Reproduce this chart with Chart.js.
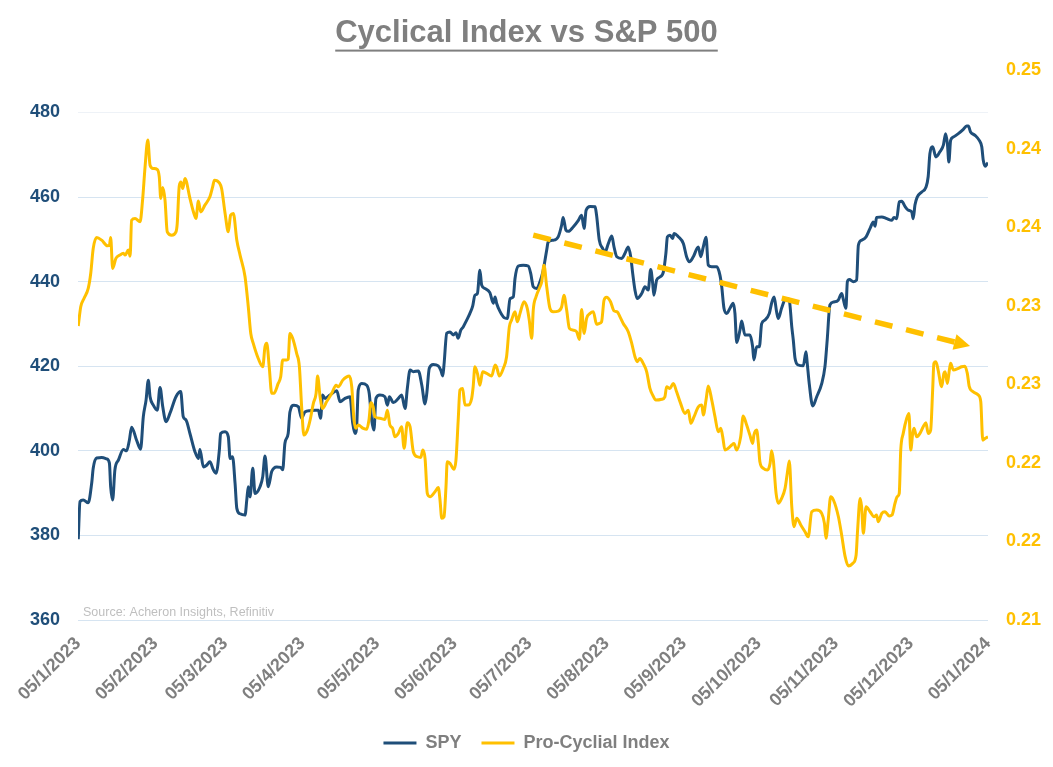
<!DOCTYPE html>
<html><head><meta charset="utf-8">
<script src="https://cdn.jsdelivr.net/npm/chart.js@4.4.1/dist/chart.umd.min.js"></script>
<style>html,body{margin:0;padding:0;background:#fff;} #wrap{width:1053px;height:767px;position:relative;}</style>
</head><body><div id="wrap"><canvas id="c"></canvas></div>
<script>
const titleText = 'Cyclical Index vs S&P 500';
const sourceText = 'Source: Acheron Insights, Refinitiv';
const seriesNames = ['SPY', 'Pro-Cyclial Index'];
const tickDays = [0,31,59,90,120,151,181,212,243,273,304,334,365];
const tickLabels = ['05/1/2023','05/2/2023','05/3/2023','05/4/2023','05/5/2023','05/6/2023','05/7/2023','05/8/2023','05/9/2023','05/10/2023','05/11/2023','05/12/2023','05/1/2024'];
const leftTicks = [360,380,400,420,440,460,480];
const rightTicks = [0.21,0.215,0.22,0.225,0.23,0.235,0.24,0.245];

const spyDay = [0.1,0.8,2.1,4.1,5.5,6.1,7.5,9.5,11.5,12.6,
13.1,13.9,14.8,16.2,18.2,19.5,20.6,21.5,23.5,25.1,
26.2,27.3,28.2,28.9,30.2,31.8,32.9,34.0,35.3,36.9,
39.3,41.2,42.2,43.3,44.9,46.9,48.3,48.9,50.3,51.6,
52.9,54.3,55.4,56.7,57.2,59.0,60.3,61.0,62.0,63.0,
63.7,65.0,67.0,67.7,68.3,69.0,70.1,71.0,73.0,74.1,
75.0,76.3,77.7,79.7,81.3,82.1,83.0,84.3,85.0,86.6,
88.4,89.7,91.0,93.1,95.1,96.4,97.3,98.1,99.1,101.1,
103.8,105.1,107.1,109.1,110.2,111.1,111.8,112.4,113.8,115.8,
116.8,117.8,118.7,119.5,121.1,123.1,124.1,124.9,126.5,128.5,
129.8,131.2,132.1,133.2,134.5,136.5,137.9,139.2,139.9,140.9,
142.5,144.5,145.5,146.3,146.8,147.9,149.2,150.5,151.6,152.5,
153.5,154.5,155.9,157.2,158.3,159.2,160.2,161.2,161.9,163.2,
165.2,166.6,167.3,167.9,169.3,170.9,172.2,173.3,174.6,175.3,
176.6,178.6,180.6,181.6,182.6,184.0,185.3,186.6,188.0,188.6,
190.6,192.6,194.0,194.6,195.7,196.7,198.7,200.7,202.0,203.0,
203.8,205.4,207.4,208.0,209.1,210.4,211.4,212.7,214.1,215.0,
216.1,218.1,219.4,220.7,221.7,222.5,223.4,224.3,226.1,227.4,
228.7,229.7,230.5,231.0,232.1,233.4,234.8,235.8,236.4,237.4,
238.5,239.1,240.8,242.8,244.1,245.2,246.8,248.8,249.8,250.8,
251.9,252.8,254.2,256.2,257.5,258.2,259.1,260.2,261.5,262.8,
263.5,264.2,265.5,266.2,267.5,269.5,270.6,271.1,272.2,273.3,
274.2,275.5,277.3,278.2,279.2,280.2,280.9,282.2,283.6,284.5,
285.3,286.3,286.9,287.6,288.9,290.9,292.0,292.5,293.3,294.7,
296.3,298.3,299.6,300.5,301.6,303.2,304.9,306.3,306.9,308.0,
308.6,309.4,311.0,312.3,313.0,314.3,316.1,317.7,319.0,319.7,
320.3,322.4,324.4,326.4,327.3,328.4,329.4,330.4,331.7,333.0,
334.4,335.0,335.7,336.6,338.4,340.1,341.0,341.7,342.8,344.1,
345.7,347.1,348.0,348.7,349.3,350.0,351.1,353.1,355.1,356.4,
357.1,358.0,359.8,361.5,362.5,363.1,363.9,364.7,365];
const spyValue = [379.1,388.0,388.4,387.7,392.4,395.9,398.3,398.4,398.1,397.1,
391.5,388.4,395.5,397.8,400.3,400.0,402.5,405.6,402.5,400.4,
408.1,412.0,416.7,412.8,410.8,409.6,415.0,410.4,406.9,408.9,
412.8,414.0,408.1,407.3,404.1,399.8,398.2,400.3,396.2,396.6,
397.4,395.5,394.7,400.2,404.1,404.5,403.3,398.2,398.6,392.3,
386.4,385.1,384.8,388.4,391.5,389.1,395.9,389.9,391.5,393.9,
398.8,391.5,395.1,396.2,396.1,395.5,401.8,404.1,409.2,410.8,
410.4,407.7,409.2,409.5,409.6,409.6,407.7,413.2,412.4,413.2,
414.2,411.6,412.4,412.8,406.5,404.1,406.1,414.4,415.9,415.5,
413.6,407.3,404.9,412.4,413.2,412.8,410.8,412.8,411.4,412.4,
413.2,410.0,414.8,419.1,418.7,418.9,415.5,411.1,413.6,419.5,
420.4,420.1,419.1,417.7,420.3,427.8,428.1,427.4,427.9,426.6,
428.5,429.3,430.9,432.5,434.2,436.8,437.2,442.7,439.2,438.4,
437.4,434.9,436.4,434.9,432.9,431.5,431.3,436.0,436.4,440.8,
443.7,443.9,443.7,441.9,438.8,438.4,440.0,442.7,447.5,449.4,
449.8,450.6,453.4,455.2,452.2,451.9,453.0,454.5,455.7,452.6,
456.9,457.8,457.7,455.7,449.8,447.9,447.0,449.0,450.8,448.2,
445.9,445.5,446.7,448.2,445.9,441.9,438.0,436.0,437.2,438.8,
438.0,442.9,439.6,436.8,440.4,441.1,442.3,446.7,450.6,451.0,
450.2,451.4,450.6,449.0,445.9,444.7,445.9,448.2,445.9,448.2,
450.5,443.9,443.5,443.5,441.5,438.8,433.7,432.5,433.7,434.9,
432.5,425.6,428.5,430.7,427.4,427.4,424.6,421.5,424.6,424.6,
430.0,430.9,432.5,434.9,436.4,432.9,431.3,433.7,435.8,436.0,
435.6,429.3,426.2,421.9,420.3,420.1,423.4,420.7,415.9,410.6,
412.8,415.9,419.9,426.2,434.5,435.2,435.6,437.2,436.0,433.7,
440.0,440.5,440.0,440.4,448.6,449.8,450.6,452.6,454.1,453.1,
455.2,455.3,454.9,454.5,455.2,454.9,458.9,459.0,457.8,456.9,
456.5,454.9,458.1,460.0,461.2,462.3,464.8,470.3,471.9,469.5,
470.7,472.3,475.0,472.7,468.3,473.4,474.2,475.0,476.0,476.8,
476.8,475.4,474.6,473.4,471.9,468.7,467.3,467.9,468.1];

const cycDay = [0.1,1.1,2.4,4.1,5.1,6.1,7.5,9.5,11.8,12.6,
13.1,13.9,15.2,16.8,18.2,18.9,20.2,20.9,21.5,22.9,
24.9,25.9,26.9,28.0,28.9,30.2,31.8,32.6,33.2,34.0,
34.9,35.8,37.6,39.3,39.8,40.6,41.3,42.0,42.9,44.9,
46.5,47.3,48.3,49.2,50.9,52.9,54.0,54.7,56.7,57.6,
59.0,60.3,61.2,62.3,63.7,65.0,67.0,68.3,69.3,70.3,
72.3,74.1,75.0,75.7,76.7,77.7,78.6,80.3,81.3,82.1,
83.7,84.3,85.0,86.1,87.7,88.8,89.7,90.6,92.0,93.1,
94.4,95.5,96.1,97.1,98.1,99.7,101.8,103.5,104.4,106.2,
107.8,108.8,109.8,110.7,111.5,112.4,114.4,115.8,116.7,117.5,
118.4,119.1,121.1,123.1,124.1,125.1,126.2,127.1,128.5,129.8,
130.8,132.1,133.2,134.5,136.1,137.5,138.3,139.2,140.1,141.2,
143.2,144.5,145.2,145.9,146.8,147.6,148.1,149.2,150.8,151.6,
152.5,153.2,154.3,155.2,156.5,157.9,158.5,159.2,160.2,161.2,
162.3,163.9,165.9,167.3,167.9,169.0,170.6,171.9,173.0,173.9,
175.3,176.2,177.3,178.9,180.2,181.0,182.0,182.6,183.7,185.3,
186.0,186.9,188.0,189.3,190.6,192.6,194.0,194.9,196.0,197.1,
198.7,200.0,201.1,202.0,203.0,204.0,205.4,206.7,208.0,209.1,
210.0,211.0,212.0,213.6,215.0,216.3,217.4,218.7,220.7,222.1,
223.4,224.3,225.4,226.7,228.1,229.4,230.5,231.8,234.1,235.4,
236.1,237.4,238.8,240.1,241.7,243.5,244.8,245.8,247.1,248.8,
250.2,250.8,251.9,252.8,254.2,255.5,256.8,257.8,258.6,259.5,
260.8,262.2,263.1,264.2,265.8,266.8,268.2,269.5,270.6,271.1,
272.2,272.9,273.5,274.9,276.5,277.6,278.2,278.9,280.0,280.9,
282.2,283.6,284.5,285.3,286.3,287.2,288.3,289.9,291.6,292.9,
294.3,296.3,298.3,299.4,300.0,300.9,301.9,303.0,305.0,306.3,
307.7,309.0,310.8,312.1,312.7,313.7,314.3,315.0,316.1,317.7,
319.3,320.3,321.0,322.4,323.7,325.4,326.5,327.7,328.6,329.4,
330.0,331.0,332.4,333.3,334.0,334.8,335.3,336.4,337.7,339.0,
340.1,341.0,342.0,342.8,343.3,344.1,345.0,346.4,347.3,347.8,
348.7,349.5,350.0,351.1,353.1,354.4,355.7,356.7,357.5,359.1,
361.1,362.1,362.9,363.8,365];
const cycValue = [0.22871,0.22994,0.23047,0.23111,0.23206,0.23365,0.23435,0.23418,0.23382,0.23386,
0.23435,0.23238,0.23302,0.23323,0.23334,0.23323,0.23355,0.23316,0.23545,0.23556,
0.23535,0.23673,0.23885,0.24055,0.23895,0.23874,0.23868,0.23821,0.23684,0.23754,
0.23673,0.23471,0.2345,0.23471,0.23524,0.23762,0.23789,0.23747,0.23811,0.23684,
0.23588,0.23556,0.23668,0.23598,0.23641,0.23694,0.23757,0.2380,0.23783,0.23747,
0.23588,0.23471,0.23577,0.23588,0.23418,0.23323,0.23185,0.22994,0.22824,0.22761,
0.22665,0.22612,0.22739,0.22761,0.22612,0.22443,0.22443,0.22506,0.22548,0.22655,
0.22655,0.2266,0.22824,0.22793,0.22697,0.22612,0.22357,0.22177,0.22209,0.22273,
0.22379,0.22443,0.22553,0.22421,0.22347,0.22389,0.22443,0.22495,0.22485,0.22527,
0.22548,0.22553,0.22485,0.22273,0.2222,0.22241,0.2222,0.22214,0.22273,0.22383,
0.22357,0.22294,0.22284,0.22277,0.22336,0.22241,0.2222,0.22166,0.22188,0.2223,
0.22093,0.22256,0.2223,0.22071,0.22039,0.22035,0.22082,0.22029,0.21806,0.21785,
0.21816,0.21844,0.21764,0.21647,0.21657,0.21848,0.22007,0.21997,0.21959,0.22018,
0.22273,0.22464,0.22474,0.22368,0.22368,0.22411,0.22485,0.22612,0.2257,0.22495,
0.2258,0.2257,0.22553,0.22623,0.22612,0.22553,0.22602,0.22676,0.22866,0.22909,
0.22962,0.22898,0.22952,0.23026,0.22984,0.22909,0.22793,0.22973,0.23057,0.23121,
0.23153,0.23259,0.23121,0.22984,0.22962,0.22966,0.22994,0.23068,0.22973,0.22856,
0.22845,0.22835,0.22786,0.22977,0.22824,0.2292,0.22952,0.22962,0.22882,0.22888,
0.22898,0.23036,0.23054,0.23026,0.22968,0.22962,0.2293,0.22888,0.22835,0.22761,
0.22676,0.22644,0.22665,0.22634,0.2258,0.22474,0.22432,0.224,0.22405,0.22421,
0.22485,0.22474,0.22506,0.22453,0.22379,0.22315,0.22336,0.22252,0.22294,0.22357,
0.22368,0.22305,0.224,0.22489,0.224,0.22294,0.22198,0.2222,0.22166,0.22082,
0.22093,0.22114,0.22124,0.22082,0.22166,0.22298,0.22241,0.22177,0.22124,0.22177,
0.22209,0.22124,0.22007,0.21965,0.21955,0.21997,0.22077,0.22018,0.21806,0.21743,
0.21774,0.21838,0.21934,0.22012,0.21721,0.21594,0.21647,0.21605,0.21562,0.2153,
0.21689,0.217,0.21679,0.21615,0.2152,0.21636,0.21785,0.21764,0.21657,0.21541,
0.21403,0.21344,0.21361,0.21414,0.21573,0.21774,0.21721,0.21552,0.21721,0.21689,
0.21657,0.21668,0.21626,0.21679,0.21689,0.21662,0.21668,0.21743,0.21785,0.21806,
0.22082,0.22188,0.22284,0.22315,0.22082,0.22188,0.2222,0.22166,0.22188,0.2223,
0.22256,0.22188,0.22209,0.22464,0.22634,0.22644,0.22591,0.22485,0.2257,0.2258,
0.22506,0.22591,0.22634,0.22591,0.22602,0.22612,0.22616,0.2257,0.22485,0.22453,
0.22432,0.22389,0.22145,0.22156,0.22166];

// trend arrow annotation (day, SPY value) for start and tip
const trendDay = [182.6, 357.8];
const trendValue = [451.0, 424.8];

const FONT = "'Liberation Sans', Arial, Helvetica, sans-serif";
Chart.defaults.font.family = FONT;

const BLUE = '#1F4E79', GOLD = '#FFC000', GRAY = '#7F7F7F';
const TITLE_SIZE = 31, TITLE_PAD_TOP = 15, TITLE_PAD_BOTTOM = 18;

const underlinePlugin = {
  id: 'underline',
  afterDraw(chart) {
    const t = chart.titleBlock; if (!t) return;
    const ctx = chart.ctx;
    ctx.save();
    ctx.font = 'bold ' + TITLE_SIZE + 'px ' + FONT;
    const w = ctx.measureText(titleText).width;
    const cx = (t.left + t.right) / 2;
    const cy = t.top + TITLE_PAD_TOP + TITLE_SIZE * 1.2 / 2;
    ctx.fillStyle = GRAY;
    ctx.fillRect(cx - w / 2, cy + 16, w, 2);
    ctx.restore();
  }
};

const annotPlugin = {
  id: 'annot',
  afterDatasetsDraw(chart) {
    const {ctx, chartArea, scales: {x, y}} = chart;
    const x1 = x.getPixelForValue(trendDay[0]), y1 = y.getPixelForValue(trendValue[0]);
    const x2 = x.getPixelForValue(trendDay[1]), y2 = y.getPixelForValue(trendValue[1]);
    const ang = Math.atan2(y2 - y1, x2 - x1);
    const headLen = 16, headW = 8;
    const bx = x2 - headLen * Math.cos(ang), by = y2 - headLen * Math.sin(ang);
    const L = Math.hypot(bx - x1, by - y1);
    const dash = 18, gap0 = 13;
    const n = Math.max(2, Math.round((L + gap0) / (dash + gap0)));
    const gap = (L - n * dash) / (n - 1);
    ctx.save();
    ctx.strokeStyle = GOLD; ctx.lineWidth = 5.5; ctx.lineCap = 'butt';
    ctx.setLineDash([dash, gap]);
    ctx.beginPath(); ctx.moveTo(x1, y1); ctx.lineTo(bx + Math.cos(ang), by + Math.sin(ang)); ctx.stroke();
    ctx.setLineDash([]);
    ctx.fillStyle = GOLD;
    ctx.beginPath();
    ctx.moveTo(x2, y2);
    ctx.lineTo(bx + headW * Math.sin(ang), by - headW * Math.cos(ang));
    ctx.lineTo(bx - headW * Math.sin(ang), by + headW * Math.cos(ang));
    ctx.closePath(); ctx.fill();
    // source note
    ctx.font = '12.5px ' + FONT;
    ctx.fillStyle = '#BFBFBF';
    ctx.textBaseline = 'middle'; ctx.textAlign = 'left';
    ctx.fillText(sourceText, chartArea.left + 5, chartArea.bottom - 7);
    ctx.restore();
  }
};

new Chart(document.getElementById('c'), {
  type: 'line',
  data: {
    datasets: [
      { label: seriesNames[0], yAxisID: 'y', order: 1,
        data: spyDay.map((d, i) => ({x: d, y: spyValue[i]})),
        borderColor: BLUE, backgroundColor: BLUE, borderWidth: 3, pointRadius: 0,
        cubicInterpolationMode: 'monotone' },
      { label: seriesNames[1], yAxisID: 'y2', order: 0,
        data: cycDay.map((d, i) => ({x: d, y: cycValue[i]})),
        borderColor: GOLD, backgroundColor: GOLD, borderWidth: 3, pointRadius: 0,
        cubicInterpolationMode: 'monotone' }
    ]
  },
  options: {
    responsive: true, maintainAspectRatio: false, animation: false,
    layout: { padding: { left: 0, right: 0, top: 0, bottom: 5 } },
    plugins: {
      tooltip: { enabled: false },
      title: { display: true, text: titleText, color: GRAY,
        font: { size: TITLE_SIZE, weight: 'bold' },
        padding: { top: TITLE_PAD_TOP, bottom: TITLE_PAD_BOTTOM } },
      legend: { position: 'bottom',
        labels: { boxWidth: 33, boxHeight: 0, padding: 20, color: GRAY,
          font: { size: 18, weight: 'bold' },
          sort: (a, b) => a.datasetIndex - b.datasetIndex } }
    },
    scales: {
      x: { type: 'linear', position: 'bottom', min: 0, max: 365,
        grid: { display: false, drawTicks: false }, border: { display: false },
        afterBuildTicks: s => { s.ticks = tickDays.map(v => ({value: v})); },
        afterFit: s => { s.height = 94; },
        ticks: { autoSkip: false, minRotation: 45, maxRotation: 45, padding: 13,
          color: GRAY, font: { size: 18, weight: 'bold' },
          callback: (v, i) => tickLabels[i] } },
      y: { type: 'linear', position: 'left', min: 360, max: 490,
        afterBuildTicks: s => { s.ticks = leftTicks.map(v => ({value: v})); },
        afterFit: s => { s.width = 78; },
        grid: { drawTicks: false, lineWidth: 1,
          color: c => (c.tick && c.tick.value === 480) ? '#EEF2F7' : '#D6E4F1' },
        border: { display: false },
        ticks: { padding: 18, color: BLUE, font: { size: 18, weight: 'bold' } } },
      y2: { type: 'linear', position: 'right', min: 0.21, max: 0.245,
        afterBuildTicks: s => { s.ticks = rightTicks.map(v => ({value: v})); },
        afterFit: s => { s.width = 65; },
        grid: { display: false, drawTicks: false }, border: { display: false },
        ticks: { padding: 18, color: GOLD, font: { size: 18, weight: 'bold' },
          callback: v => (Math.round(v * 100 + 1e-6) / 100).toFixed(2) } }
    }
  },
  plugins: [underlinePlugin, annotPlugin]
});
</script>
</body></html>
